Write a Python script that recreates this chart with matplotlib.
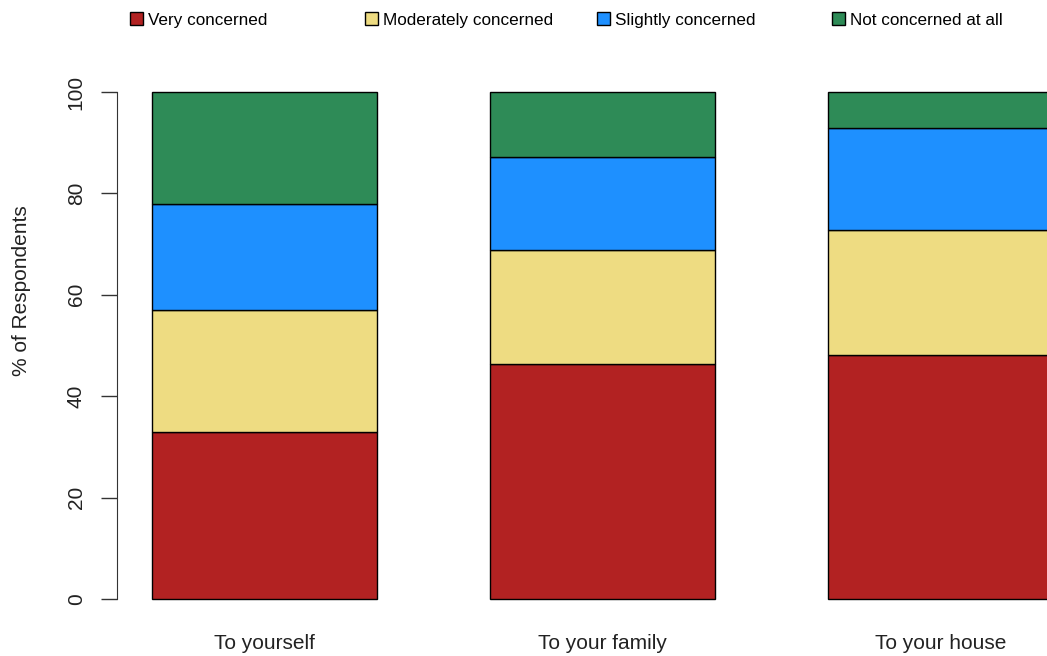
import numpy as np
import matplotlib
matplotlib.use("Agg")
import matplotlib.pyplot as plt

plt.rcParams['font.family'] = ['Liberation Sans', 'DejaVu Sans']

categories = ["To yourself", "To your family", "To your house"]
levels = ["Very concerned", "Moderately concerned", "Slightly concerned", "Not concerned at all"]
very = [33.0, 46.4, 48.1]
moderately = [24.0, 22.4, 24.7]
slightly = [21.0, 18.4, 20.1]
not_at_all = [22.0, 12.8, 7.1]
colors = ["#B22222", "#EEDC82", "#1E90FF", "#2E8B57"]

W, H = 1047, 656
fig = plt.figure(figsize=(W / 100, H / 100), dpi=100)
# axes placed in pixel terms: left spine at x=117, y from 80 to 610 px
ax = fig.add_axes([117 / W, (H - 610) / H, (W - 117) / W, 530 / H])

x = np.array([1.0, 2.5, 4.0])
bottom = np.zeros(3)
handles = []
for vals, col, lab in zip([very, moderately, slightly, not_at_all], colors, levels):
    b = ax.bar(x, vals, width=1.0, bottom=bottom, color=col, edgecolor="black",
               linewidth=1.0, label=lab)
    handles.append(b)
    bottom += np.array(vals)

px = 225.3  # pixels per x unit
ax.set_xlim(0.5 - 35 / px, 0.5 + (W - 152) / px)
ax.set_ylim(-11 / 5.07, 100 + 12 / 5.07)

for s in ["top", "right", "bottom"]:
    ax.spines[s].set_visible(False)
ax.spines["left"].set_bounds(0, 100)
ax.spines["left"].set_color("#333333")

ax.set_yticks([0, 20, 40, 60, 80, 100])
ax.tick_params(axis="y", length=11.5, width=1, color="#333333", labelsize=15,
               pad=11, labelrotation=90)
for t in ax.get_yticklabels():
    t.set_va("center")
    t.set_color("#222222")

ax.set_xticks(x)
ax.set_xticklabels(categories, fontsize=15, color="#222222")
ax.tick_params(axis="x", length=0, pad=17.5)

ax.set_ylabel("% of Respondents", fontsize=15, color="#222222")
ax.yaxis.set_label_coords(-0.092, (610 - 291) / 530)

# legend entries along the top, one per level
legend_x = [130, 365, 597, 832]
for h, lab, lx in zip(handles, levels, legend_x):
    fig.legend([h], [lab], loc="center left", bbox_to_anchor=(lx / W, 1 - 20 / H),
               frameon=False, fontsize=12.3, handlelength=0.75, handleheight=0.75,
               handletextpad=0.3, borderpad=0, borderaxespad=0)

fig.savefig("out.png", dpi=100)
